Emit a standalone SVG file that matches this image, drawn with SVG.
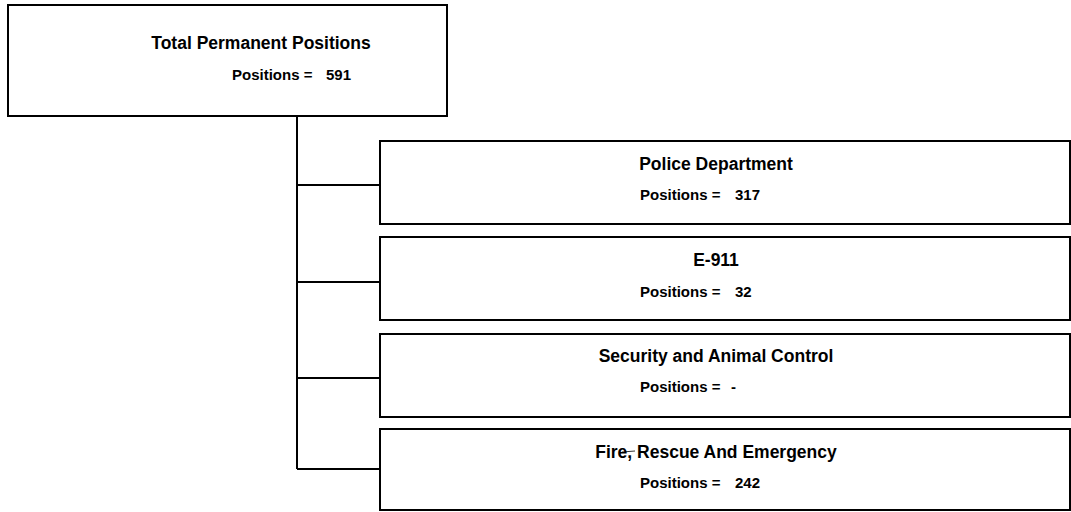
<svg xmlns="http://www.w3.org/2000/svg" width="1071" height="512" viewBox="0 0 1071 512">
<style>
.box{fill:#fff;stroke:#000;stroke-width:2}
.con{fill:none;stroke:#000;stroke-width:2}
.t{font-family:"Liberation Sans",Arial,sans-serif;font-weight:bold;fill:#000}
.h1{font-size:17.5px}
.h2{font-size:17.5px}
.p{font-size:15px}
</style>
<rect width="1071" height="512" fill="#fff"/>
<g id="connectors">
<path class="con" d="M297,116 V469"/>
<path class="con" d="M297,185 H380"/>
<path class="con" d="M297,282 H380"/>
<path class="con" d="M297,378 H380"/>
<path class="con" d="M297,469 H380"/>
</g>
<g id="total">
<rect class="box" x="8" y="5" width="439" height="111"/>
<text class="t h1" x="261" y="49" text-anchor="middle">Total Permanent Positions</text>
<text class="t p" x="232" y="80">Positions =<tspan x="326">591</tspan></text>
</g>
<g id="police">
<rect class="box" x="380" y="141" width="690" height="83"/>
<text class="t h2" x="716" y="170" text-anchor="middle">Police Department</text>
<text class="t p" x="640" y="200">Positions =<tspan x="735">317</tspan></text>
</g>
<g id="e911">
<rect class="box" x="380" y="237" width="690" height="83"/>
<text class="t h2" x="716" y="266" text-anchor="middle">E-911</text>
<text class="t p" x="640" y="297">Positions =<tspan x="735">32</tspan></text>
</g>
<g id="security">
<rect class="box" x="380" y="334" width="690" height="83"/>
<text class="t h2" x="716" y="362" text-anchor="middle">Security and Animal Control</text>
<text class="t p" x="640" y="392">Positions =<tspan x="731">-</tspan></text>
</g>
<g id="fire">
<rect class="box" x="380" y="429" width="690" height="81"/>
<text class="t h2" x="716" y="458" text-anchor="middle">Fire, Rescue And Emergency</text>
<line x1="622" y1="452" x2="635" y2="451" stroke="#000" stroke-width="0.8"/>
<text class="t p" x="640" y="488">Positions =<tspan x="735">242</tspan></text>
</g>
</svg>
